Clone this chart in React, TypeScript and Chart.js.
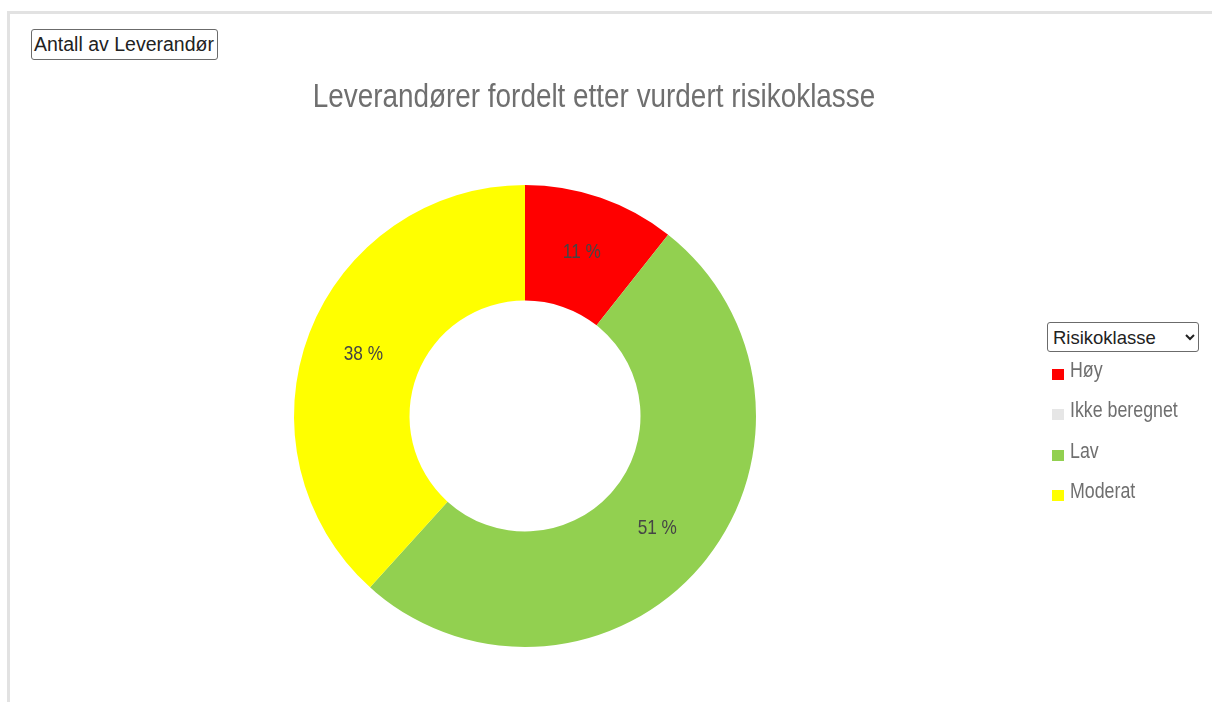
import React, { useEffect, useRef } from 'react';
import { Chart, registerables } from 'chart.js';

Chart.register(...registerables);

const categories = ['Høy', 'Ikke beregnet', 'Lav', 'Moderat'];
const counts = [5, 0, 24, 18];
const sliceColors = ['#ff0000', '#e6e6e6', '#92d050', '#ffff00'];
const chartTitle = 'Leverandører fordelt etter vurdert risikoklasse';
const valueFieldLabel = 'Antall av Leverandør';
const legendFieldLabel = 'Risikoklasse';

const SANS = "'Liberation Sans', Arial, sans-serif";
const NARROW_SCALE = 0.82; // Arial Narrow look: Arial glyphs condensed horizontally

function narrowText(
  ctx: CanvasRenderingContext2D,
  text: string,
  x: number,
  y: number,
  size: number,
  color: string,
  align: CanvasTextAlign
) {
  ctx.save();
  ctx.translate(x, y);
  ctx.scale(NARROW_SCALE, 1);
  ctx.font = `${size}px ${SANS}`;
  ctx.fillStyle = color;
  ctx.textAlign = align;
  ctx.textBaseline = 'middle';
  ctx.fillText(text, 0, 0);
  ctx.restore();
}

const sliceLabels = {
  id: 'sliceLabels',
  afterDatasetsDraw(chart: any) {
    const ctx = chart.ctx;
    const meta = chart.getDatasetMeta(0);
    const data = chart.data.datasets[0].data as number[];
    const total = data.reduce((a, b) => a + b, 0);
    meta.data.forEach((arc: any, i: number) => {
      const v = data[i];
      if (!v) return;
      const p = arc.tooltipPosition();
      narrowText(ctx, Math.round((v / total) * 100) + ' %', p.x, p.y, 21, '#454545', 'center');
    });
  },
};

const titleAndLegend = {
  id: 'titleAndLegend',
  afterDraw(chart: any) {
    const ctx = chart.ctx as CanvasRenderingContext2D;
    const area = chart.chartArea;
    // title, centred over chart + legend block
    narrowText(ctx, chartTitle, 594, 98, 34, '#6f6f6f', 'center');
    // legend
    const labels = chart.data.labels as string[];
    const bg = chart.data.datasets[0].backgroundColor as string[];
    const boxX = area.right + 13;
    const firstY = 371;
    const step = 40.4;
    labels.forEach((lab, i) => {
      const cy = firstY + step * i;
      ctx.fillStyle = bg[i];
      ctx.fillRect(boxX, Math.round(cy - 2), 12, 11);
      narrowText(ctx, lab, boxX + 18, cy, 21.7, '#6f6f6f', 'left');
    });
  },
};

export default function App() {
  const canvasRef = useRef<HTMLCanvasElement | null>(null);

  useEffect(() => {
    if (!canvasRef.current) return;
    const chart = new Chart(canvasRef.current, {
      type: 'doughnut',
      data: {
        labels: categories,
        datasets: [
          {
            data: counts,
            backgroundColor: sliceColors,
            borderWidth: 0,
            radius: 231,
            cutout: '50%',
          } as any,
        ],
      },
      options: {
        responsive: false,
        animation: false,
        events: [],
        layout: { padding: { left: 11, right: 173, top: 138, bottom: 8 } },
        plugins: {
          tooltip: { enabled: false },
          title: { display: false },
          legend: { display: false },
        },
      },
      plugins: [sliceLabels, titleAndLegend],
    });
    return () => chart.destroy();
  }, []);

  return (
    <div style={{ position: 'absolute', left: 0, top: 0, width: 1212, height: 702, overflow: 'hidden', background: '#fff' }}>
      <div
        style={{
          position: 'absolute',
          left: 7,
          top: 11,
          right: 0,
          bottom: 0,
          borderTop: '3px solid #e2e2e2',
          borderLeft: '3px solid #e2e2e2',
        }}
      />
      <canvas ref={canvasRef} width={1212} height={702} style={{ position: 'absolute', left: 0, top: 0, width: 1212, height: 702 }} />
      <button
        style={{
          position: 'absolute',
          left: 31,
          top: 29,
          width: 187,
          height: 31,
          padding: '0 2px',
          background: '#fff',
          border: '1px solid #6b6b6b',
          borderRadius: 3,
          fontFamily: SANS,
          fontSize: 19.5,
          color: '#222',
          whiteSpace: 'nowrap',
          textAlign: 'left',
        }}
      >
        {valueFieldLabel}
      </button>
      <select
        defaultValue={legendFieldLabel}
        style={{
          position: 'absolute',
          left: 1047,
          top: 322,
          width: 152,
          height: 30,
          padding: '0 0 0 1px',
          background: '#fff',
          border: '1px solid #6b6b6b',
          borderRadius: 3,
          fontFamily: SANS,
          fontSize: 18.5,
          color: '#222',
        }}
      >
        <option value={legendFieldLabel}>{legendFieldLabel}</option>
      </select>
    </div>
  );
}
